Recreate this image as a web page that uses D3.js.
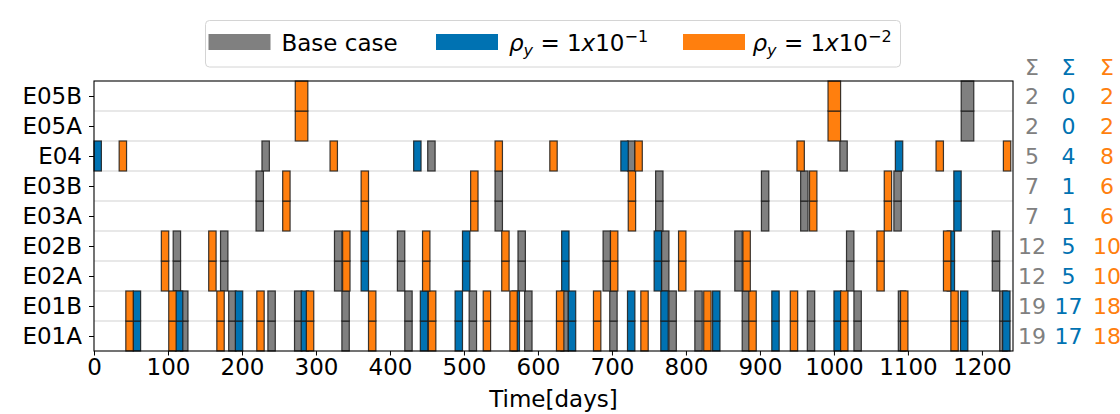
<!DOCTYPE html>
<html><head><meta charset="utf-8">
<script src="https://cdn.jsdelivr.net/npm/d3@7"></script>
<style>
body{margin:0;background:#fff;}
text{font-family:"DejaVu Sans",sans-serif;}
</style>
</head><body>
<svg id="c" width="1120" height="414"></svg>
<script>
// ---- data ----
const rowLabels = ["E01A","E01B","E02A","E02B","E03A","E03B","E04","E05A","E05B"];
const rowGroup  = [0,0,1,1,2,2,3,4,4];               // index into groups
const groups    = ["E01","E02","E03","E04","E05"];
const eventDays = [10,10,10,10,17];                   // event length (days) per group

// event start days per group: E01, E02, E03, E04, E05
const baseCase = [
  [117,182,235,271,335,420,507,582,631,697,777,812,876,964,1027,1087,1224],
  [107,171,325,410,573,688,767,866,1017,1214],
  [219,542,759,902,955,1081],
  [227,451,721,1008],
  [1172]
];
const rhoE1 = [
  [53,110,191,280,441,488,565,641,721,766,836,916,1000,1171,1228],
  [361,498,632,757,1153],
  [1162],
  [0,432,712,1083],
  []
];
const rhoE2 = [
  [43,101,166,220,287,371,452,526,562,625,675,739,824,885,941,1009,1090,1158],
  [91,155,336,444,551,698,790,877,1058,1148],
  [255,361,509,722,967,1068],
  [34,319,542,616,731,950,1138,1229],
  [272,992]
];
// totals shown at right, per group
const sumBase = [19,12,7,5,2];
const sumE1   = [17,5,1,4,0];
const sumE2   = [18,10,6,8,2];

const xTicks = [0,100,200,300,400,500,600,700,800,900,1000,1100,1200];
const xMax = 1242;

// ---- styles ----
const colors = {base:"#808080", e1:"#0072b2", e2:"#ff7f0e"};
const series = [
  {key:"base", data:baseCase, sums:sumBase, color:colors.base},
  {key:"e1",   data:rhoE1,    sums:sumE1,   color:colors.e1},
  {key:"e2",   data:rhoE2,    sums:sumE2,   color:colors.e2}
];
const FS = 23;

const svg = d3.select("#c");
svg.append("rect").attr("width",1120).attr("height",414).attr("fill","#fff");

const L=94, R=1013, T=81, B=351;
const x = d3.scaleLinear().domain([0,xMax]).range([L,R]);
const y = d3.scaleLinear().domain([-0.5, rowLabels.length-0.5]).range([B,T]);

// grid lines between rows
const gridG = svg.append("g");
d3.range(0.5, rowLabels.length-1, 1).forEach(v=>{
  gridG.append("line").attr("x1",L).attr("x2",R).attr("y1",y(v)).attr("y2",y(v))
    .attr("stroke","#e0e0e0").attr("stroke-width",1.3);
});

// bars
const barG = svg.append("g");
series.forEach(s=>{
  rowLabels.forEach((lab,i)=>{
    const g = rowGroup[i];
    s.data[g].forEach(st=>{
      barG.append("rect")
        .attr("x",x(st)).attr("width",x(st+eventDays[g])-x(st))
        .attr("y",y(i+0.5)).attr("height",y(i-0.5)-y(i+0.5))
        .attr("fill",s.color).attr("stroke","#1a1a1a").attr("stroke-opacity",0.85).attr("stroke-width",1.2);
    });
  });
});

// axes
const xAxis = d3.axisBottom(x).tickValues(xTicks).tickFormat(d3.format("d")).tickSize(4.5).tickPadding(3);
const gx = svg.append("g").attr("transform",`translate(0,${B})`).call(xAxis);
gx.select(".domain").remove();
gx.selectAll("text").attr("font-size",FS).attr("font-family","DejaVu Sans").attr("fill","#000");
gx.selectAll("line").attr("stroke","#000");

const yAxis = d3.axisLeft(y).tickValues(d3.range(rowLabels.length)).tickFormat(i=>rowLabels[i]).tickSize(5).tickPadding(7);
const gy = svg.append("g").attr("transform",`translate(${L},0)`).call(yAxis);
gy.select(".domain").remove();
gy.selectAll("text").attr("font-size",FS).attr("font-family","DejaVu Sans").attr("fill","#000");
gy.selectAll("line").attr("stroke","#000");

// frame
svg.append("rect").attr("x",L).attr("y",T).attr("width",R-L).attr("height",B-T)
  .attr("fill","none").attr("stroke","#000").attr("stroke-width",1.1);

// x label
svg.append("text").attr("x",(L+R)/2).attr("y",407).attr("text-anchor","middle")
  .attr("font-size",FS).text("Time[days]");

// sums at right
const colX = [1032,1068.5,1107];
series.forEach((s,k)=>{
  svg.append("text").attr("x",colX[k]).attr("y",y(rowLabels.length)+1).attr("dy","0.36em")
    .attr("text-anchor","middle").attr("font-size",22).attr("fill",s.color).text("Σ");
  rowLabels.forEach((lab,i)=>{
    svg.append("text").attr("x",colX[k]).attr("y",y(i)).attr("dy","0.36em")
      .attr("text-anchor","middle").attr("font-size",22).attr("fill",s.color)
      .text(s.sums[rowGroup[i]]);
  });
});

// legend
const lg = svg.append("g");
lg.append("rect").attr("x",205.5).attr("y",20.5).attr("width",695).attr("height",46.5)
  .attr("rx",4).attr("fill","#fff").attr("stroke","#d4d4d4").attr("stroke-width",1);
const legItems = [
  {color:colors.base, px:208.5, tx:281.5, label:null, text:"Base case"},
  {color:colors.e1,   px:436,   tx:509,   label:"1"},
  {color:colors.e2,   px:683,   tx:752.5, label:"2"}
];
legItems.forEach(it=>{
  lg.append("rect").attr("x",it.px).attr("y",34).attr("width",62).attr("height",16).attr("fill",it.color);
  const t = lg.append("text").attr("x",it.tx).attr("y",50.5).attr("font-size",FS).attr("fill","#000");
  if(it.text){ t.text(it.text); return; }
  t.append("tspan").attr("font-style","italic").text("ρ");
  t.append("tspan").attr("font-style","italic").attr("font-size",16).attr("dy",5).text("y");
  t.append("tspan").attr("dy",-5).text(" = 1");
  t.append("tspan").attr("font-style","italic").text("x");
  t.append("tspan").text("10");
  t.append("tspan").attr("font-size",16).attr("dy",-9).text("−"+it.label);
});
</script>
</body></html>
